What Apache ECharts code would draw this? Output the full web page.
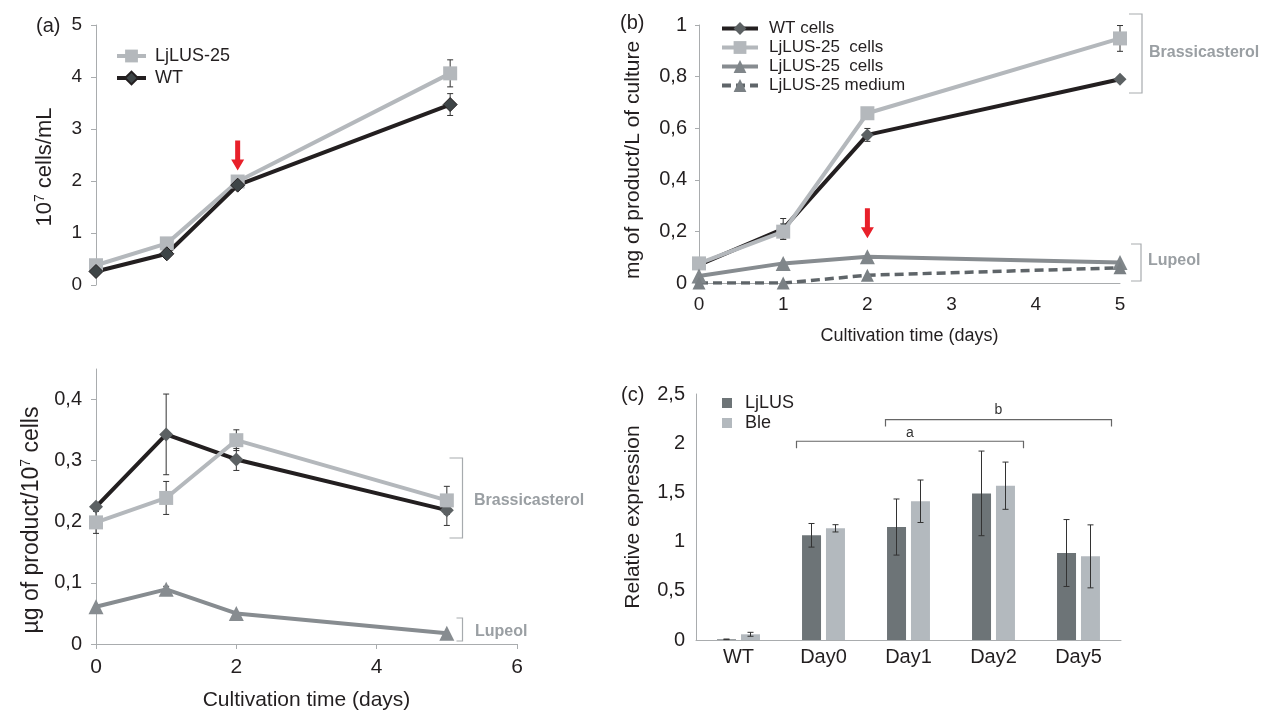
<!DOCTYPE html>
<html>
<head>
<meta charset="utf-8">
<script src="https://cdn.jsdelivr.net/npm/echarts@6/dist/echarts.min.js"></script>
<style>
  html, body { margin: 0; padding: 0; background: #fff; }
  #main { width: 1268px; height: 711px; }
</style>
</head>
<body>
<div id="main"></div>
<script>
// (a) cell density, 10^7 cells/mL
var days = [0, 1, 2, 5];
var growthLus = [0.38, 0.80, 1.99, 4.07];
var growthLusErr = [0, 0, 0, 0.26];
var growthWt = [0.26, 0.60, 1.92, 3.47];
var growthWtErr = [0, 0, 0, 0.21];

// (b) mg of product / L of culture
var brasWt = [0.07, 0.21, 0.574, 0.79];
var brasWtErr = [0, 0.04, 0.025, 0];
var brasLus = [0.076, 0.199, 0.658, 0.948];
var brasLusErr = [0, 0.03, 0, 0.05];
var lupCells = [0.027, 0.076, 0.102, 0.079];
var lupMedium = [0.0, 0.0, 0.03, 0.059];

// bottom left: ug of product / 10^7 cells
var cellWt = [0.2245, 0.343, 0.302, 0.219];
var cellWtErr = [0, 0.066, 0.018, 0.025];
var cellLus = [0.199, 0.239, 0.3335, 0.235];
var cellLusErr = [0.018, 0.027, 0.017, 0.023];
var cellLup = [0.061, 0.0894, 0.050, 0.0175];
var cellLupErr = [0, 0.005, 0, 0];

// (c) relative expression
var samples = ['WT', 'Day0', 'Day1', 'Day2', 'Day5'];
var exprLjlus = [0.007, 1.064, 1.148, 1.49, 0.884];
var exprLjlusErr = [0.003, 0.12, 0.285, 0.43, 0.34];
var exprBle = [0.058, 1.135, 1.41, 1.568, 0.85];
var exprBleErr = [0.02, 0.037, 0.216, 0.24, 0.32];

var FONT = '"Liberation Sans", Arial, sans-serif';
var TXT = '#231f20';
var AXIS = '#a9acae';
var BLACK = '#231f20', LIGHT = '#b4b8bc', MID = '#878c90', DARK = '#5f6569';

function pairs(xs, ys) {
  return xs.map(function (x, i) { return [x, ys[i]]; });
}
function comma(v) {
  return String(+v.toFixed(2)).replace('.', ',');
}

// error bars drawn through the axes with a custom series
function errBars(xs, ys, errs, idx, dx, z) {
  var data = [];
  xs.forEach(function (x, i) {
    if (errs[i] > 0) data.push([x, ys[i] - errs[i], ys[i] + errs[i]]);
  });
  return {
    type: 'custom', xAxisIndex: idx, yAxisIndex: idx, silent: true, z: z || 1,
    data: data,
    renderItem: function (params, api) {
      var lo = api.coord([api.value(0), api.value(1)]);
      var hi = api.coord([api.value(0), api.value(2)]);
      var x = lo[0] + (dx || 0), c = 3;
      var st = { stroke: '#333', lineWidth: 1 };
      return { type: 'group', children: [
        { type: 'line', shape: { x1: x, y1: lo[1], x2: x, y2: hi[1] }, style: st },
        { type: 'line', shape: { x1: x - c, y1: lo[1], x2: x + c, y2: lo[1] }, style: st },
        { type: 'line', shape: { x1: x - c, y1: hi[1], x2: x + c, y2: hi[1] }, style: st }
      ] };
    }
  };
}

function lineSeries(name, idx, ys, lineColor, symbol, symColor, size, extra) {
  var s = {
    type: 'line', name: name, xAxisIndex: idx, yAxisIndex: idx,
    data: pairs(days, ys), symbol: symbol, symbolSize: size, z: 3,
    lineStyle: { color: lineColor, width: 4 },
    itemStyle: { color: symColor, borderWidth: 0 }
  };
  if (extra) for (var k in extra) s[k] = extra[k];
  return s;
}

function valAxis(grid, min, max, interval, opt) {
  var a = {
    type: 'value', gridIndex: grid, min: min, max: max, interval: interval,
    axisLine: { show: true, lineStyle: { color: AXIS, width: 1 } },
    axisTick: { show: true, length: 5, lineStyle: { color: AXIS } },
    splitLine: { show: false },
    axisLabel: { color: TXT, fontFamily: FONT, fontSize: 19, formatter: comma },
    nameTextStyle: { color: TXT, fontFamily: FONT, fontSize: 20 }
  };
  for (var k in opt) {
    if (typeof opt[k] === 'object' && a[k]) {
      for (var j in opt[k]) a[k][j] = opt[k][j];
    } else a[k] = opt[k];
  }
  return a;
}

function supRich(size) {
  return {
    s: { fontSize: Math.round(size * 0.62), fontFamily: FONT, color: TXT, verticalAlign: 'top', lineHeight: size + 2 },
    t: { fontSize: size, fontFamily: FONT, color: TXT, lineHeight: size + 2 }
  };
}

var chart = echarts.init(document.getElementById('main'));

var option = {
  backgroundColor: '#fff',
  animation: false,
  textStyle: { fontFamily: FONT },
  grid: [
    { left: 96, top: 25, width: 425, height: 260, outerBoundsMode: 'none' },
    { left: 96, top: 369, width: 421, height: 275, outerBoundsMode: 'none' },
    { left: 699, top: 25, width: 421, height: 258, outerBoundsMode: 'none' },
    { left: 696, top: 394, width: 425, height: 246, outerBoundsMode: 'none' }
  ],
  xAxis: [
    { type: 'value', gridIndex: 0, min: 0, max: 6, show: false },
    valAxis(1, 0, 6, 2, {
      axisLabel: { fontSize: 21, margin: 13 },
      name: 'Cultivation time (days)', nameLocation: 'middle', nameGap: 46,
      nameTextStyle: { fontSize: 21 }
    }),
    valAxis(2, 0, 5, 1, {
      axisTick: { show: false },
      axisLabel: { fontSize: 19, margin: 12 },
      name: 'Cultivation time (days)', nameLocation: 'middle', nameGap: 44,
      nameTextStyle: { fontSize: 18 }
    }),
    {
      type: 'category', gridIndex: 3, data: samples,
      axisLine: { show: true, lineStyle: { color: AXIS } },
      axisTick: { show: false },
      axisLabel: { color: TXT, fontFamily: FONT, fontSize: 20, margin: 7 }
    }
  ],
  yAxis: [
    valAxis(0, 0, 5, 1, {
      axisLabel: { margin: 14 },
      name: '{t|10}{s|7}{t| cells/mL}', nameLocation: 'middle', nameRotate: 90, nameGap: 39,
      nameTextStyle: { rich: supRich(22), padding: [0, 24, 0, 0] }
    }),
    valAxis(1, 0, 0.45, 0.1, {
      axisLabel: { margin: 14, fontSize: 20, showMaxLabel: false },
      name: '{t|µg of product/10}{s|7}{t| cells}', nameLocation: 'middle', nameRotate: 90, nameGap: 52,
      nameTextStyle: { rich: supRich(23), padding: [0, 27, 0, 0] }
    }),
    valAxis(2, 0, 1, 0.2, {
      axisTick: { show: true, length: 4 },
      axisLabel: { margin: 12, fontSize: 20 },
      name: 'mg of product/L of culture', nameLocation: 'middle', nameRotate: 90, nameGap: 55,
      nameTextStyle: { fontSize: 21, padding: [0, 12, 0, 0] }
    }),
    valAxis(3, 0, 2.5, 0.5, {
      axisTick: { show: false },
      axisLabel: { margin: 11, fontSize: 20 },
      name: 'Relative expression', nameLocation: 'middle', nameRotate: 90, nameGap: 52,
      nameTextStyle: { fontSize: 21 }
    })
  ],
  legend: [
    {
      data: ['LjLUS-25', 'WT'], orient: 'vertical', left: 115, top: 47, padding: 0,
      itemWidth: 29, itemHeight: 16, itemGap: 4,
      lineStyle: { width: 4 },
      textStyle: { color: TXT, fontFamily: FONT, fontSize: 18, padding: [0, 0, 0, 4] }
    },
    {
      data: ['WT cells', 'LjLUS-25  cells', 'LjLUS-25  cells ', 'LjLUS-25 medium'],
      orient: 'vertical', left: 720, top: 20, padding: 0,
      itemWidth: 36, itemHeight: 16, itemGap: 2,
      lineStyle: { width: 4 },
      textStyle: { color: TXT, fontFamily: FONT, fontSize: 17, padding: [0, 0, 0, 6] }
    },
    {
      data: ['LjLUS', 'Ble'], orient: 'vertical', left: 722, top: 394, padding: 0,
      itemWidth: 10, itemHeight: 10, itemGap: 2, icon: 'rect',
      textStyle: { color: TXT, fontFamily: FONT, fontSize: 18, padding: [0, 0, 0, 8] }
    }
  ],
  series: [
    // (a)
    errBars(days, growthLus, growthLusErr, 0, 0, 1),
    errBars(days, growthWt, growthWtErr, 0, 0, 1),
    lineSeries('LjLUS-25', 0, growthLus, LIGHT, 'rect', LIGHT, 14),
    lineSeries('WT', 0, growthWt, BLACK, 'diamond', '#3e4547', 14,
      { itemStyle: { color: '#3e4547', borderColor: BLACK, borderWidth: 1 } }),

    // bottom left
    errBars(days, cellWt, cellWtErr, 1, 0, 1),
    errBars(days, cellLus, cellLusErr, 1, 0, 1),
    errBars(days, cellLup, cellLupErr, 1, 0, 1),
    lineSeries('WT per cell', 1, cellWt, BLACK, 'diamond', '#5c6163', 14),
    lineSeries('LjLUS per cell', 1, cellLus, LIGHT, 'rect', LIGHT, 14),
    lineSeries('Lupeol per cell', 1, cellLup, MID, 'triangle', MID, 15),

    // (b)
    errBars(days, brasWt, brasWtErr, 2, 0, 1),
    errBars(days, brasLus, brasLusErr, 2, 0, 1),
    lineSeries('WT cells', 2, brasWt, BLACK, 'diamond', '#5c6163', 13),
    lineSeries('LjLUS-25  cells', 2, brasLus, LIGHT, 'rect', LIGHT, 14),
    lineSeries('LjLUS-25  cells ', 2, lupCells, MID, 'triangle', '#80868a', 15),
    lineSeries('LjLUS-25 medium', 2, lupMedium, DARK, 'triangle', '#7a8084', 13,
      { lineStyle: { color: DARK, width: 3.5, type: [9, 5] } }),

    // (c)
    {
      type: 'bar', name: 'LjLUS', xAxisIndex: 3, yAxisIndex: 3, data: exprLjlus,
      barWidth: 19, barGap: '26%', itemStyle: { color: '#6d7477' }
    },
    {
      type: 'bar', name: 'Ble', xAxisIndex: 3, yAxisIndex: 3, data: exprBle,
      barWidth: 19, barGap: '26%', itemStyle: { color: '#b3b9be' }
    },
    errBars([0, 1, 2, 3, 4], exprLjlus, exprLjlusErr, 3, -12, 5),
    errBars([0, 1, 2, 3, 4], exprBle, exprBleErr, 3, 12, 5)
  ]
};

chart.setOption(option);

// annotations: arrows, brackets, panel letters
function px(grid, pt) { return chart.convertToPixel({ gridIndex: grid }, pt); }
function arrow(tip) {
  var x = tip[0], y = tip[1];
  return {
    type: 'polygon', silent: true, z: 10,
    shape: { points: [[x - 2.5, y - 30], [x + 2.5, y - 30], [x + 2.5, y - 11], [x + 6.5, y - 11],
                      [x, y], [x - 6.5, y - 11], [x - 2.5, y - 11]] },
    style: { fill: '#e8202a' }
  };
}
function sideBracket(x, y1, y2, tick) {
  return {
    type: 'polyline', silent: true,
    shape: { points: [[x - tick, y1], [x, y1], [x, y2], [x - tick, y2]] },
    style: { stroke: '#a7abae', lineWidth: 1.2, fill: null }
  };
}
function topBracket(x1, x2, y) {
  return {
    type: 'polyline', silent: true,
    shape: { points: [[x1, y + 7], [x1, y], [x2, y], [x2, y + 7]] },
    style: { stroke: '#666', lineWidth: 1.2, fill: null }
  };
}
function label(text, x, y, opt) {
  var st = { text: text, x: x, y: y, fill: TXT, font: '20px ' + FONT, align: 'left', verticalAlign: 'middle' };
  for (var k in opt) st[k] = opt[k];
  return { type: 'text', silent: true, style: st };
}
var tagFont = 'bold 16px ' + FONT;
var tagColor = '#9a9fa3';

var aDay0 = px(3, [1, 2.02]), aDay2 = px(3, [3, 2.02]);
var bDay1 = px(3, [2, 2.24]), bDay5 = px(3, [4, 2.24]);

chart.setOption({
  graphic: [
    arrow(px(0, [2, 2.2])),
    arrow(px(2, [2, 0.173])),
    sideBracket(1142, 14, 93, 13),
    sideBracket(1141, 244, 281, 10),
    sideBracket(462.5, 458, 538, 13),
    sideBracket(462.5, 618, 641, 6),
    label('Brassicasterol', 1149, 53, { font: tagFont, fill: tagColor }),
    label('Lupeol', 1148, 261, { font: tagFont, fill: tagColor }),
    label('Brassicasterol', 474, 501, { font: tagFont, fill: tagColor }),
    label('Lupeol', 475, 632, { font: tagFont, fill: tagColor }),
    topBracket(aDay0[0] - 27, aDay2[0] + 30, aDay0[1]),
    topBracket(bDay1[0] - 23, bDay5[0] + 33, bDay1[1]),
    label('a', (aDay0[0] - 27 + aDay2[0] + 30) / 2, aDay0[1] - 8, { font: '14px ' + FONT, align: 'center', fill: '#333' }),
    label('b', (bDay1[0] - 23 + bDay5[0] + 33) / 2, bDay1[1] - 9, { font: '14px ' + FONT, align: 'center', fill: '#333' }),
    label('(a)', 36, 26),
    label('(b)', 620, 23),
    label('(c)', 621, 395)
  ]
});

window.addEventListener('resize', function () { chart.resize(); });
</script>
</body>
</html>
